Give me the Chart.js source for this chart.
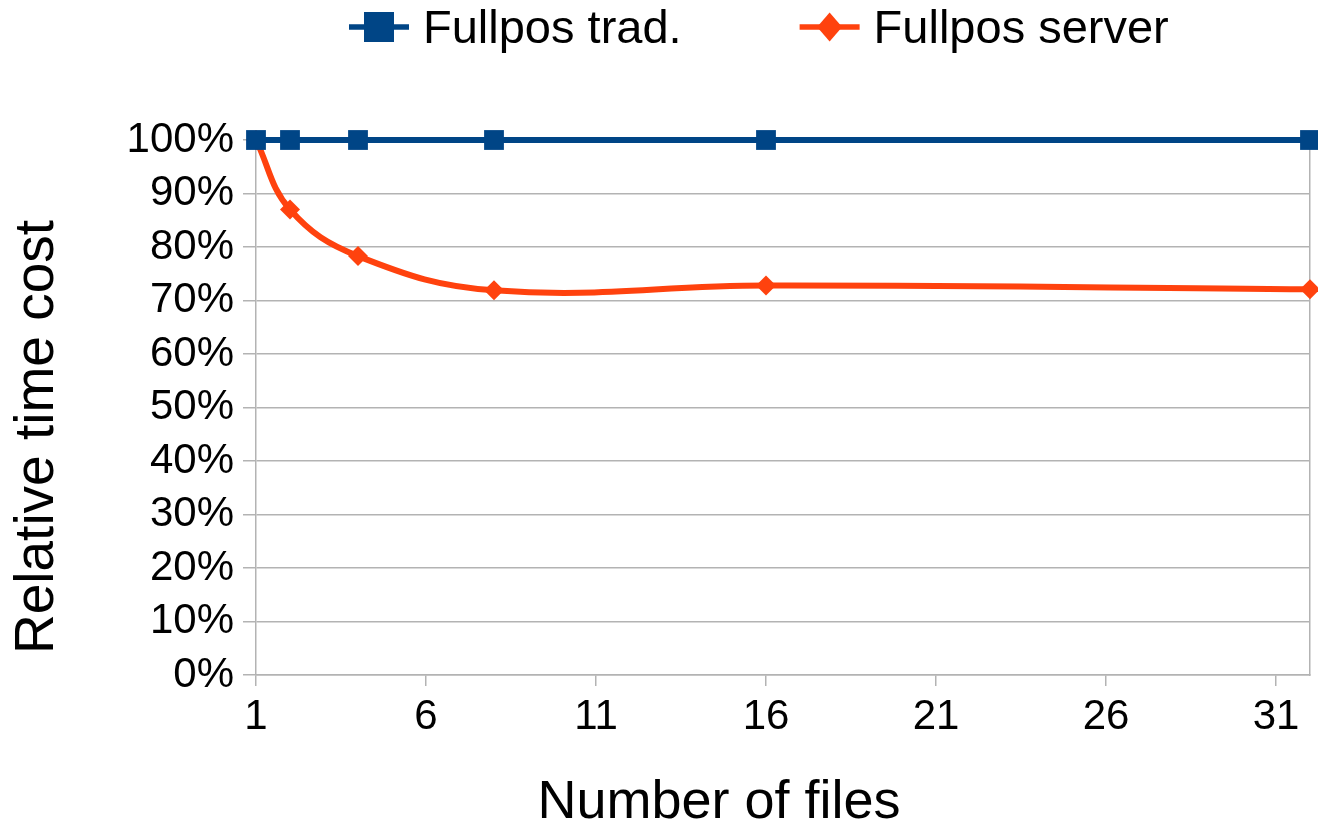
<!DOCTYPE html>
<html>
<head>
<meta charset="utf-8">
<script src="https://cdn.jsdelivr.net/npm/chart.js@4/dist/chart.umd.min.js"></script>
<style>
  html, body { margin: 0; padding: 0; background: #fff; }
  #wrap { width: 1318px; height: 824px; }
</style>
</head>
<body>
<div id="wrap"><canvas id="fullposChart" width="1318" height="824"></canvas></div>
<script>
var files = [1, 2, 4, 8, 16, 32];
var tradValues = [100, 100, 100, 100, 100, 100];
var serverValues = [100, 87, 78.3, 71.9, 72.8, 72.1];
var xTickValues = [1, 6, 11, 16, 21, 26, 31];

var BLUE = '#004586';
var ORANGE = '#ff420e';
var GRID = '#b3b3b3';
var FONT = '"Liberation Sans", Arial, sans-serif';

// legend (line + marker) and the two axis titles, placed like the office chart
var chartDecor = {
    id: 'chartDecor',
    afterDraw: function(chart, args, opts) {
        var ctx = chart.ctx;
        var x = opts.legendX;
        var cy = opts.legendY;
        ctx.save();
        ctx.font = opts.legendFont + 'px ' + FONT;
        ctx.textBaseline = 'alphabetic';
        chart.data.datasets.forEach(function(ds) {
            ctx.strokeStyle = ds.borderColor;
            ctx.fillStyle = ds.borderColor;
            ctx.lineWidth = 5.5;
            ctx.beginPath();
            ctx.moveTo(x, cy);
            ctx.lineTo(x + 60, cy);
            ctx.stroke();
            var mx = x + 30;
            ctx.beginPath();
            if (ds.pointStyle === 'rect') {
                ctx.rect(mx - 15, cy - 15, 30, 30);
            } else {
                ctx.moveTo(mx, cy - 14.5);
                ctx.lineTo(mx + 12.5, cy);
                ctx.lineTo(mx, cy + 14.5);
                ctx.lineTo(mx - 12.5, cy);
                ctx.closePath();
            }
            ctx.fill();
            ctx.fillStyle = '#000';
            var tx = x + 74;
            ctx.fillText(ds.label, tx, opts.legendBaseline);
            x = tx + ctx.measureText(ds.label).width + opts.itemGap;
        });

        ctx.font = opts.titleFont + 'px ' + FONT;
        ctx.textAlign = 'center';
        ctx.fillText(opts.xTitle, opts.xTitleX, opts.xTitleBaseline);
        ctx.translate(opts.yTitleBaseline, opts.yTitleY);
        ctx.rotate(-Math.PI / 2);
        ctx.font = opts.yTitleFont + 'px ' + FONT;
        ctx.fillText(opts.yTitle, 0, 0);
        ctx.restore();
    }
};

new Chart(document.getElementById('fullposChart'), {
    type: 'line',
    data: {
        datasets: [{
            label: 'Fullpos trad.',
            data: files.map(function(f, i) { return { x: f, y: tradValues[i] }; }),
            borderColor: BLUE,
            backgroundColor: BLUE,
            borderWidth: 6,
            pointStyle: 'rect',
            pointRadius: 14,
            pointHoverRadius: 14,
            pointBorderWidth: 0,
            tension: 0,
            clip: false
        }, {
            label: 'Fullpos server',
            data: files.map(function(f, i) { return { x: f, y: serverValues[i] }; }),
            borderColor: ORANGE,
            backgroundColor: ORANGE,
            borderWidth: 6,
            pointStyle: 'rectRot',
            pointRadius: 10,
            pointHoverRadius: 10,
            pointBorderWidth: 0,
            tension: 0.4,
            clip: false
        }]
    },
    options: {
        responsive: false,
        animation: false,
        layout: { autoPadding: false, padding: { left: 0, right: 0, top: 140, bottom: 0 } },
        plugins: {
            tooltip: { enabled: false },
            legend: { display: false },
            chartDecor: {
                legendX: 349, legendY: 27, legendBaseline: 43, legendFont: 47, itemGap: 118,
                xTitle: 'Number of files', xTitleX: 719, xTitleBaseline: 818, titleFont: 54,
                yTitle: 'Relative time cost', yTitleY: 437, yTitleBaseline: 53, yTitleFont: 55
            }
        },
        scales: {
            x: {
                type: 'linear',
                min: 1,
                max: 32,
                afterBuildTicks: function(axis) {
                    axis.ticks = xTickValues.map(function(v) { return { value: v }; });
                },
                afterFit: function(axis) { axis.height = 149; },
                grid: { drawOnChartArea: false, color: GRID, tickLength: 11, lineWidth: 1.5 },
                border: { color: GRID, width: 1.5 },
                ticks: { color: '#000', font: { family: FONT, size: 42 }, padding: 6, maxRotation: 0 }
            },
            y: {
                min: 0,
                max: 100,
                afterFit: function(axis) { axis.width = 256; },
                ticks: { stepSize: 10, color: '#000', font: { family: FONT, size: 42 }, padding: 9,
                    callback: function(v) { return v + '%'; } },
                grid: { color: GRID, lineWidth: 1.5, tickLength: 13 },
                border: { color: GRID, width: 1.5 }
            },
            yRight: {
                position: 'right',
                min: 0,
                max: 100,
                afterFit: function(axis) { axis.width = 8; },
                ticks: { display: false },
                grid: { display: false },
                border: { display: true, color: GRID, width: 1.5 }
            }
        }
    },
    plugins: [chartDecor]
});
</script>
</body>
</html>
